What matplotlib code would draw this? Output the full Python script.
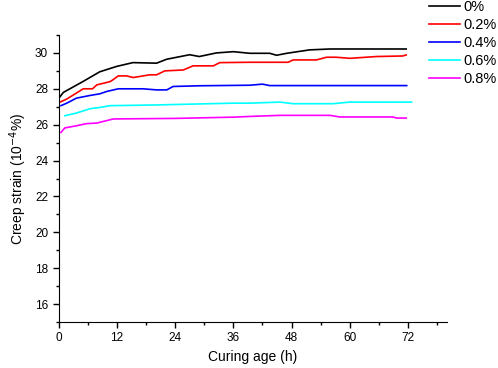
import matplotlib.pyplot as plt
from matplotlib.ticker import MultipleLocator

plt.rcParams['font.family'] = ['Liberation Sans', 'DejaVu Sans']

labels = ["0%", "0.2%", "0.4%", "0.6%", "0.8%"]
colors = ["black", "red", "blue", "cyan", "magenta"]

# curing age (h) / creep strain (1e-4 %)
x_0 = [0, 1, 3, 5, 8.5, 12, 15.3, 20.2, 22.3, 27, 29, 32.5, 36, 39.4, 43.5, 44.9, 47, 51.7, 55.9, 71.6]
y_0 = [27.45, 27.8, 28.1, 28.4, 28.95, 29.25, 29.46, 29.43, 29.65, 29.9, 29.8, 30.0, 30.07, 29.98, 29.98, 29.87, 29.98, 30.17, 30.22, 30.22]

x_2 = [0, 1.7, 5.1, 7, 7.9, 10.6, 11.2, 12.3, 14, 15.4, 18.8, 20.2, 21.9, 25.7, 27.7, 31.9, 33.2, 39.4,
       47.3, 48.3, 53.1, 55.2, 57.2, 60, 65.5, 70.9, 71.6]
y_2 = [27.22, 27.43, 28.0, 28.0, 28.22, 28.4, 28.5, 28.72, 28.72, 28.63, 28.78, 28.78, 29.0, 29.05, 29.28, 29.28, 29.46, 29.48,
       29.48, 29.61, 29.61, 29.76, 29.76, 29.7, 29.8, 29.83, 29.89]

x_4 = [0.5, 1.7, 3.7, 6.5, 8.5, 9.9, 12.3, 17.4, 20.2, 22.3, 23.6, 29.1, 39.4, 42, 43.5, 71.7]
y_4 = [27.06, 27.2, 27.48, 27.63, 27.72, 27.85, 28.0, 28.0, 27.94, 27.94, 28.13, 28.17, 28.2, 28.26, 28.18, 28.18]

x_6 = [1.3, 3.7, 6.5, 8.5, 10.6, 20, 36, 39.4, 45.6, 48.3, 56.5, 60, 72.7]
y_6 = [26.5, 26.65, 26.89, 26.96, 27.06, 27.1, 27.2, 27.2, 27.26, 27.17, 27.17, 27.26, 27.26]

x_8 = [0.5, 1.3, 3.7, 5.8, 7.9, 9.2, 11.3, 24, 36, 39.4, 45.6, 55.9, 57.9, 68.9, 69.6, 71.6]
y_8 = [25.57, 25.82, 25.94, 26.06, 26.09, 26.18, 26.32, 26.35, 26.42, 26.46, 26.52, 26.52, 26.43, 26.43, 26.37, 26.37]

xs = [x_0, x_2, x_4, x_6, x_8]
ys = [y_0, y_2, y_4, y_6, y_8]

fig = plt.figure(figsize=(4.98, 3.68), dpi=100)
ax = fig.add_axes([58.5 / 498, 1 - 322 / 368, (447 - 58.5) / 498, (322 - 35) / 368])

for x, y, c, lab in zip(xs, ys, colors, labels):
    ax.plot(x, y, color=c, lw=1.2, label=lab)

ax.set_xlim(0, 80)
ax.set_ylim(15, 31)
ax.xaxis.set_minor_locator(MultipleLocator(6))
ax.yaxis.set_minor_locator(MultipleLocator(1))
ax.set_xticks([0, 12, 24, 36, 48, 60, 72])
ax.set_yticks([16, 18, 20, 22, 24, 26, 28, 30])
ax.spines['top'].set_visible(False)
ax.spines['right'].set_visible(False)
ax.tick_params(which='major', direction='out', length=4, width=1, labelsize=8.5)
ax.tick_params(which='minor', direction='out', length=2.5, width=1)
ax.set_xlabel("Curing age (h)", fontsize=10)
ax.set_ylabel("Creep strain (10$^{-4}$%)", fontsize=10)

ax.legend(loc='upper left', bbox_to_anchor=(429 / 498, 1.0), bbox_transform=fig.transFigure,
          frameon=False, fontsize=10.5, handlelength=2.1, labelspacing=0.27, borderaxespad=0,
          borderpad=0, handletextpad=0.25)

fig.savefig("out.png", dpi=100)
